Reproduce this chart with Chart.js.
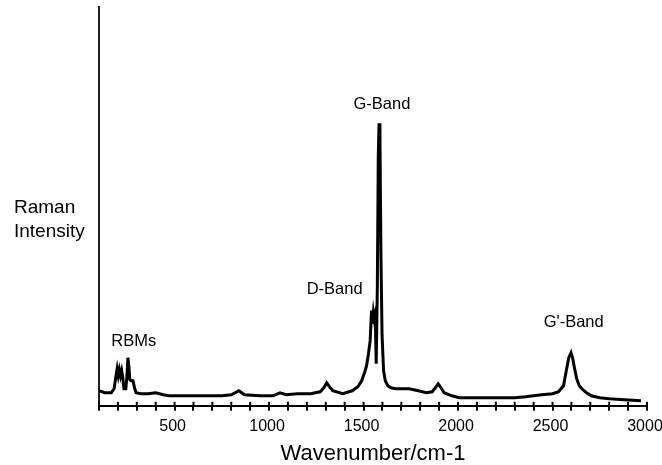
<!DOCTYPE html>
<html>
<head>
<meta charset="UTF-8">
<title>Raman spectrum</title>
<script src="https://cdn.jsdelivr.net/npm/chart.js@4"></script>
<style>
  html, body { margin: 0; padding: 0; background: #fff; }
  #wrap { width: 662px; height: 465px; }
</style>
</head>
<body>
<div id="wrap"><canvas id="raman" width="662" height="465"></canvas></div>
<script>
// spectrum (intensity in arbitrary units)
const wavenumber = [100, 130, 165, 180, 190, 196, 202, 208, 214, 220, 226, 232, 242, 248, 253, 258, 263, 270, 280, 288, 296,
  320, 360, 400, 440, 470, 550, 650, 750, 800, 840, 870, 950, 1020, 1058, 1090, 1150, 1220, 1270, 1290, 1305, 1320, 1337,
  1390, 1440, 1470, 1490, 1505, 1516, 1526, 1535, 1542, 1547, 1552, 1557, 1562, 1567, 1573, 1578, 1582, 1587, 1592, 1598,
  1606, 1615, 1628, 1645, 1670, 1700, 1742, 1790, 1832, 1863, 1880, 1895, 1910, 1926, 1968, 2005, 2100, 2200, 2300, 2358,
  2442, 2500, 2532, 2558, 2574, 2586, 2598, 2606, 2614, 2628, 2642, 2655, 2680, 2705, 2750, 2800, 2880, 2968];
const intensity = [15, 13, 13, 17, 30, 37, 30, 36, 30, 35, 28, 17, 17, 30, 48, 40, 26, 25, 25, 18, 13,
  12, 12, 13, 11, 10, 10, 10, 10, 11, 15, 11, 10, 10, 13, 11, 12, 12, 14, 18, 23, 19, 15,
  12, 15, 19, 25, 33, 40, 52, 65, 95, 82, 93, 86, 91, 42, 120, 250, 282, 265, 150, 70,
  35, 25, 20, 18, 17, 17, 17, 15, 13, 14, 18, 22, 18, 13, 10, 8, 8, 8, 8, 9,
  11, 12, 14, 20, 36, 48, 53, 48, 40, 27, 20, 17, 13, 10, 8, 7, 6, 5];

const xTickLabels = [500, 1000, 1500, 2000, 2500, 3000];

// band names and where they sit (wavenumber, intensity level of the text baseline)
const bandNames = ['RBMs', 'D-Band', 'G-Band', "G'-Band"];
const bandWavenumber = [284, 1347, 1597, 2612];
const bandLevel = [60, 112, 296, 79];

const FONT = "'Liberation Sans', Arial, sans-serif";

const labelPlugin = {
  id: 'labels',
  afterDraw(chart) {
    const ctx = chart.ctx;
    const x = chart.scales.x, y = chart.scales.y;
    ctx.save();
    // upper half of the crossing tick marks
    ctx.strokeStyle = '#000';
    ctx.lineWidth = 2;
    x.ticks.forEach(t => {
      const px = x.getPixelForValue(t.value);
      ctx.beginPath();
      ctx.moveTo(px, x.top - 4);
      ctx.lineTo(px, x.top);
      ctx.stroke();
    });
    ctx.fillStyle = '#000';
    ctx.textAlign = 'center';
    ctx.textBaseline = 'alphabetic';
    ctx.font = '16.5px ' + FONT;
    bandNames.forEach((name, i) => {
      ctx.fillText(name, x.getPixelForValue(bandWavenumber[i]), y.getPixelForValue(bandLevel[i]));
    });
    ctx.textAlign = 'left';
    ctx.font = '19px ' + FONT;
    ctx.fillText('Raman', 14, 213);
    ctx.fillText('Intensity', 14, 237);
    ctx.restore();
  }
};

new Chart(document.getElementById('raman'), {
  type: 'line',
  data: {
    datasets: [{
      data: wavenumber.map((w, i) => ({ x: w, y: intensity[i] })),
      borderColor: '#000',
      borderWidth: 3,
      pointRadius: 0,
      tension: 0,
      fill: false
    }]
  },
  options: {
    responsive: false,
    animation: false,
    layout: { padding: { left: 91, right: 0, top: 7, bottom: 0 } },
    plugins: { legend: { display: false }, tooltip: { enabled: false } },
    scales: {
      x: {
        type: 'linear',
        min: 100,
        max: 3000,
        afterFit(s) { s.paddingLeft = 0; s.paddingRight = 15; },
        ticks: {
          stepSize: 100,
          autoSkip: false,
          maxRotation: 0,
          padding: 6,
          labelOffset: -2,
          color: '#000',
          font: { family: FONT, size: 16 },
          callback: v => xTickLabels.includes(v) ? String(v) : ''
        },
        grid: { drawOnChartArea: false, drawTicks: true, tickLength: 5, lineWidth: 2, color: '#000' },
        border: { display: true, color: '#000', width: 2 },
        title: {
          display: true,
          text: 'Wavenumber/cm-1',
          color: '#000',
          font: { family: FONT, size: 22, lineHeight: 1 },
          padding: { top: 1, bottom: 0 }
        }
      },
      y: {
        min: 0,
        max: 398,
        ticks: { display: false },
        grid: { display: false },
        border: { display: true, color: '#222', width: 2 }
      }
    }
  },
  plugins: [labelPlugin]
});
</script>
</body>
</html>
